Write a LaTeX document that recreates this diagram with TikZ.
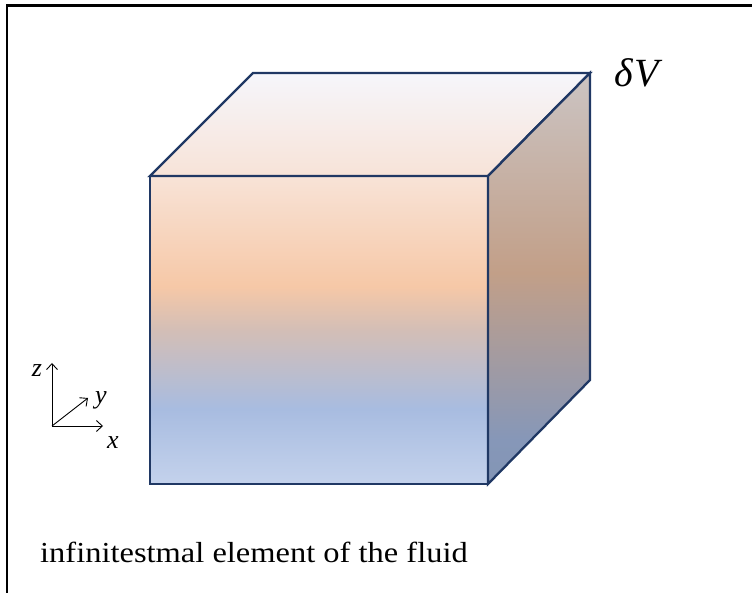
\documentclass[tikz,border=0pt]{standalone}
\usepackage{fontspec}
\setmainfont{Liberation Serif}
\newfontfamily\capfont[FakeStretch=1.12]{Liberation Serif}
\usetikzlibrary{arrows.meta}
\definecolor{fa}{HTML}{F8E3D7}
\definecolor{fb}{HTML}{F6C8A7}
\definecolor{fc}{HTML}{D3BEB6}
\definecolor{fd}{HTML}{A8BCE0}
\definecolor{fe}{HTML}{C4D2EC}
\definecolor{ra}{HTML}{CBC4C3}
\definecolor{rb}{HTML}{C29F88}
\definecolor{rc}{HTML}{8697B8}
\definecolor{rd}{HTML}{8395B5}
\definecolor{ta}{HTML}{F6F6FB}
\definecolor{tb}{HTML}{F7E3D8}
\definecolor{edge}{HTML}{203864}
\pgfdeclareverticalshading{frontsh}{100bp}{color(0bp)=(fe);color(25bp)=(fe);color(37.2bp)=(fd);color(50bp)=(fc);color(57.1bp)=(fb);color(75bp)=(fa);color(100bp)=(fa)}
\pgfdeclareverticalshading{rightsh}{100bp}{color(0bp)=(rd);color(25bp)=(rd);color(30.4bp)=(rc);color(50.7bp)=(rb);color(75bp)=(ra);color(100bp)=(ra)}
\tikzset{
  face/.style={draw=edge, line width=2.3pt, line join=miter},
  axis/.style={line width=0.9pt, -{Straight Barb[length=6pt,width=11pt]}},
  axlabel/.style={inner sep=0pt, font=\fontsize{26}{30}\selectfont\itshape}
}
\begin{document}
\begin{tikzpicture}[x=1pt,y=1pt]
\useasboundingbox (0,0) rectangle (752,592);
% frame (only top and left visible)
\draw[line width=2.2pt] (7,-5) -- (7,586.5) -- (760,586.5);
% cube faces
\shade[shading=frontsh, face] (150,108) -- (488,108) -- (488,416) -- (150,416) -- cycle;
\shade[top color=ta, bottom color=tb, face] (150,416) -- (253,519) -- (590,519) -- (488,416) -- cycle;
\shade[shading=rightsh, face] (488,416) -- (590,519) -- (590,212) -- (488,108) -- cycle;
% label
\node[inner sep=0pt, font=\fontsize{40}{44}\selectfont\itshape] (dv) at (637,519) {δ\kern1pt V};
% axes
\coordinate (o) at (52,166);
\coordinate (zt) at (52,229);
\coordinate (xt) at (103,166);
\coordinate (yt) at (88,194);
\draw[axis] (o) -- (zt);
\draw[axis] (o) -- (xt);
\draw[axis] (o) -- (yt);
\node[axlabel] (zl) at (37,221) {z};
\node[axlabel] (yl) at (101,192) {y};
\node[axlabel] (xl) at (113,149) {x};
% caption
\node[anchor=base west, inner sep=0pt, font=\fontsize{29}{34}\capfont] (cap) at (40,30) {infinitestmal element of the fluid};
\end{tikzpicture}
\end{document}
